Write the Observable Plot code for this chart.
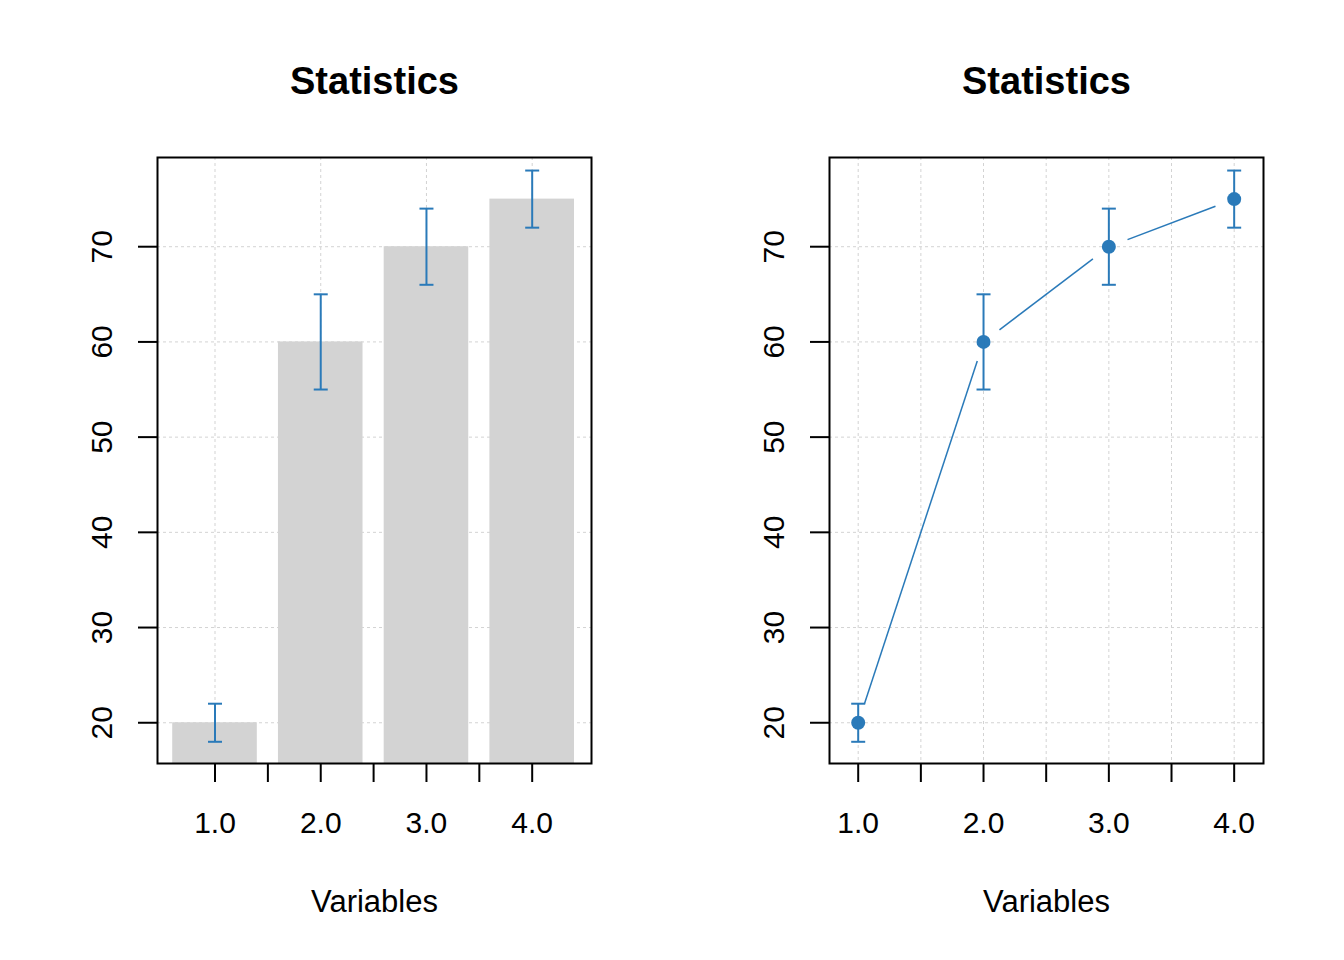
<!DOCTYPE html>
<html><head><meta charset="utf-8">
<script src="https://cdn.jsdelivr.net/npm/d3@7"></script>
<script src="https://cdn.jsdelivr.net/npm/@observablehq/plot@0.6"></script>
<style>
body{margin:0;background:#fff}
#wrap{display:flex;width:1344px;height:960px}
svg{font-family:"Liberation Sans",Arial,sans-serif}
</style>
</head><body><div id="wrap"></div>
<script>
// ---- data ----
const variables = [1, 2, 3, 4];
const means = [20, 60, 70, 75];
const lower = [18, 55, 66, 72];
const upper = [22, 65, 74, 78];
const yTicks = [20, 30, 40, 50, 60, 70];
const xTickLabels = ["1.0", "2.0", "3.0", "4.0"];
const xMinorTicks = [1, 1.5, 2, 2.5, 3, 3.5, 4];
const titleText = "Statistics";
const xLabelText = "Variables";

const data = variables.map((v, i) => ({x: v, mean: means[i], lo: lower[i], hi: upper[i]}));

// ---- layout ----
const W = 672, H = 960;
const M = {top: 157, right: 81, bottom: 197, left: 157};
const yDomain = [15.72, 79.37];
const xDomainBar = [0.456, 4.561];
const xDomainLine = [0.771, 4.234];
const blue = "#2a7ab9";
const gridStyle = {stroke: "#d3d3d3", strokeOpacity: 1, strokeDasharray: "3,3", strokeWidth: 1};
const cap = {draw(ctx) { ctx.moveTo(-7, 0); ctx.lineTo(7, 0); }};

function decorations(xTicks) {
  return [
    Plot.axisY({ticks: yTicks, tickSize: 19, tickFormat: () => "", label: null, strokeWidth: 2}),
    Plot.axisX({ticks: xTicks, tickSize: 19, tickFormat: () => "", label: null, strokeWidth: 2}),
    Plot.text(yTicks, {y: d => d, text: d => String(d), frameAnchor: "left", textAnchor: "middle", rotate: -90, dx: -46, lineAnchor: "bottom", fontSize: 30}),
    Plot.text(variables, {x: d => d, text: (d, i) => xTickLabels[i], frameAnchor: "bottom", textAnchor: "middle", dy: 69, lineAnchor: "bottom", fontSize: 30}),
    Plot.text([titleText], {frameAnchor: "top", dy: -64, lineAnchor: "bottom", fontSize: 38, fontWeight: "bold"}),
    Plot.text([xLabelText], {frameAnchor: "bottom", dy: 148, lineAnchor: "bottom", fontSize: 31}),
    Plot.frame({stroke: "black", strokeWidth: 2})
  ];
}

function errorBars() {
  return [
    Plot.ruleX(data, {x: "x", y1: "lo", y2: "hi", stroke: blue, strokeWidth: 2}),
    Plot.dot(data, {x: "x", y: "lo", symbol: cap, fill: "none", stroke: blue, strokeWidth: 2}),
    Plot.dot(data, {x: "x", y: "hi", symbol: cap, fill: "none", stroke: blue, strokeWidth: 2})
  ];
}

// ---- left: bar chart ----
const left = Plot.plot({
  width: W, height: H,
  marginTop: M.top, marginRight: M.right, marginBottom: M.bottom, marginLeft: M.left,
  x: {domain: xDomainBar},
  y: {domain: yDomain},
  style: {fontFamily: '"Liberation Sans",Arial,sans-serif', background: "white", color: "black"},
  marks: [
    Plot.gridY(yTicks, gridStyle),
    Plot.gridX(variables, gridStyle),
    Plot.rectY(data, {x1: d => d.x - 0.4, x2: d => d.x + 0.4, y1: () => yDomain[0], y2: "mean", fill: "#d3d3d3"}),
    ...errorBars(),
    ...decorations(xMinorTicks)
  ]
});

// ---- right: points + lines (type "b") ----
const xs = d3.scaleLinear(xDomainLine, [M.left, W - M.right]);
const ys = d3.scaleLinear(yDomain, [H - M.bottom, M.top]);
const gap = 20;
const segs = d3.pairs(data).map(([a, b]) => {
  const x1 = xs(a.x), y1 = ys(a.mean), x2 = xs(b.x), y2 = ys(b.mean);
  const len = Math.hypot(x2 - x1, y2 - y1), ux = (x2 - x1) / len, uy = (y2 - y1) / len;
  return {x1: xs.invert(x1 + ux * gap), y1: ys.invert(y1 + uy * gap),
          x2: xs.invert(x2 - ux * gap), y2: ys.invert(y2 - uy * gap)};
});

const right = Plot.plot({
  width: W, height: H,
  marginTop: M.top, marginRight: M.right, marginBottom: M.bottom, marginLeft: M.left,
  x: {domain: xDomainLine},
  y: {domain: yDomain},
  style: {fontFamily: '"Liberation Sans",Arial,sans-serif', background: "white", color: "black"},
  marks: [
    Plot.gridY(yTicks, gridStyle),
    Plot.gridX(xMinorTicks, gridStyle),
    Plot.link(segs, {x1: "x1", y1: "y1", x2: "x2", y2: "y2", stroke: blue, strokeWidth: 1.5}),
    Plot.dot(data, {x: "x", y: "mean", r: 7, fill: blue, stroke: "none"}),
    ...errorBars(),
    ...decorations(xMinorTicks)
  ]
});

document.getElementById("wrap").append(left, right);
</script>
</body></html>
